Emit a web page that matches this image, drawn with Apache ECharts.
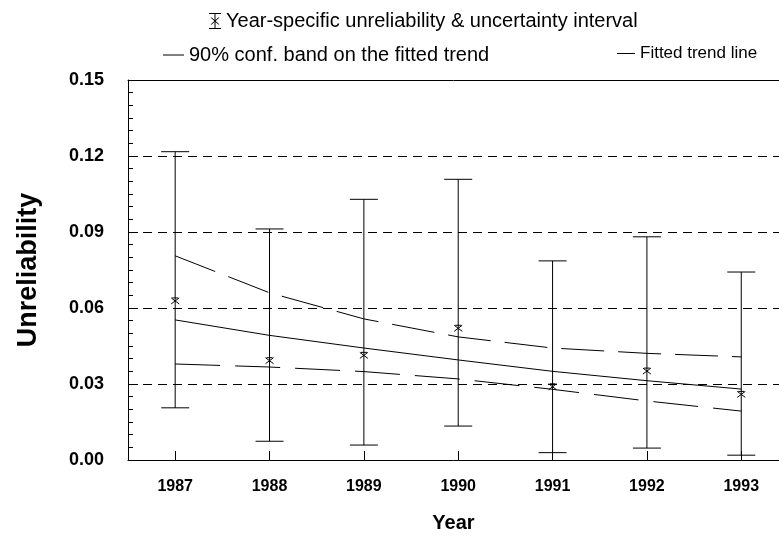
<!DOCTYPE html>
<html>
<head>
<meta charset="utf-8">
<script src="https://cdn.jsdelivr.net/npm/echarts@6/dist/echarts.min.js"></script>
<style>
    html, body { margin: 0; padding: 0; background: #fff; }
    #chart { width: 779px; height: 539px; }
</style>
</head>
<body>
<div id="chart"></div>
<script>
// values
const years = [1987, 1988, 1989, 1990, 1991, 1992, 1993]
const pointEst = [0.0628, 0.0392, 0.0413, 0.0520, 0.0289, 0.0351, 0.0259]
const lowerBound = [0.0206, 0.0074, 0.0059, 0.0134, 0.0029, 0.0047, 0.0019]
const upperBound = [0.1217, 0.0912, 0.1029, 0.1108, 0.0786, 0.0881, 0.0742]
const trendLine = [0.0553, 0.0492, 0.0442, 0.0395, 0.0350, 0.0313, 0.0280]
const bandUpper = [0.0806, 0.0660, 0.0557, 0.0486, 0.0442, 0.0421, 0.0407]
const bandLower = [0.0379, 0.0367, 0.0349, 0.0320, 0.0279, 0.0233, 0.0193]
const yTicks = [0, 0.03, 0.06, 0.09, 0.12, 0.15]

const NAME_ERR = 'Year-specific unreliability & uncertainty interval'
const NAME_BAND = '90% conf. band on the fitted trend'
const NAME_TREND = 'Fitted trend line'

const FONT = 'Liberation Sans, Arial, sans-serif'
const errIcon = 'path://M0,0H12V1H0Z M0,15H12V16H0Z M5.5,1H6.5V15H5.5Z ' +
    'M1.5,4.5L2.7,4.5L10.5,11.5L9.3,11.5Z M9.3,4.5L10.5,4.5L2.7,11.5L1.5,11.5Z'

function renderErrorBar(params, api) {
    const x = api.value(0)
    const lo = api.coord([x, api.value(1)])
    const hi = api.coord([x, api.value(2)])
    const mid = api.coord([x, api.value(3)])
    const cap = 14
    const m = 4
    const style = { stroke: '#000', lineWidth: 1, fill: null }
    const line = (x1, y1, x2, y2) => ({ type: 'line', shape: { x1, y1, x2, y2 }, style })
    return {
        type: 'group',
        children: [
            line(hi[0], hi[1], lo[0], lo[1]),
            line(hi[0] - cap, hi[1], hi[0] + cap, hi[1]),
            line(lo[0] - cap, lo[1], lo[0] + cap, lo[1]),
            line(mid[0] - m, mid[1] - m + 1, mid[0] + m, mid[1] + m - 1),
            line(mid[0] - m, mid[1] + m - 1, mid[0] + m, mid[1] - m + 1),
            line(mid[0] - m + 1, mid[1] - m + 1, mid[0] + m - 1, mid[1] - m + 1),
        ],
    }
}

const legendBase = {
    orient: 'horizontal',
    padding: 0,
    selectedMode: false,
}
const legendText = (size) => ({ color: '#000', fontSize: size, fontFamily: FONT })

const option = {
    animation: false,
    backgroundColor: '#fff',
    legend: [
        {
            ...legendBase,
            data: [{ name: NAME_ERR, icon: errIcon }],
            left: 209, top: 11, itemWidth: 12, itemHeight: 16,
            textStyle: legendText(20),
        },
        {
            ...legendBase,
            data: [{ name: NAME_BAND, icon: 'rect' }],
            left: 163, top: 45, itemWidth: 21, itemHeight: 1,
            textStyle: legendText(20),
        },
        {
            ...legendBase,
            data: [{ name: NAME_TREND, icon: 'rect' }],
            left: 617, top: 45, itemWidth: 18, itemHeight: 1,
            textStyle: legendText(17),
        },
    ],
    grid: { left: 128, right: 0, top: 80, bottom: 79 },
    xAxis: [
        {
            type: 'value',
            min: 1986.5,
            max: 1993.4,
            name: 'Year',
            nameLocation: 'middle',
            nameGap: 53,
            nameTextStyle: { color: '#000', fontSize: 20, fontWeight: 'bold', fontFamily: FONT },
            axisLine: { show: true, lineStyle: { color: '#000', width: 1 } },
            axisTick: { show: true, inside: true, length: 9, customValues: years, lineStyle: { color: '#000' } },
            axisLabel: {
                customValues: years,
                margin: 19,
                color: '#000',
                fontSize: 16,
                fontWeight: 'bold',
                fontFamily: FONT,
                formatter: (v) => String(v),
            },
            splitLine: { show: false },
        },
        {
            type: 'value',
            position: 'top',
            min: 1986.5,
            max: 1993.4,
            axisLine: { show: true, lineStyle: { color: '#000', width: 1 } },
            axisTick: { show: false },
            axisLabel: { show: false },
            splitLine: { show: false },
        },
    ],
    yAxis: {
        type: 'value',
        min: 0,
        max: 0.15,
        interval: 0.03,
        name: 'Unreliability',
        nameLocation: 'middle',
        nameRotate: 90,
        nameGap: 86,
        nameTextStyle: { color: '#000', fontSize: 27, fontWeight: 'bold', fontFamily: FONT },
        axisLine: { show: true, lineStyle: { color: '#000', width: 1 } },
        axisTick: { show: true, inside: true, length: 10, lineStyle: { color: '#000' } },
        minorTick: { show: true, splitNumber: 6, length: 5, lineStyle: { color: '#000' } },
        axisLabel: {
            margin: 24,
            color: '#000',
            fontSize: 18,
            fontWeight: 'bold',
            fontFamily: FONT,
            formatter: (v) => yTicks.find((t) => Math.abs(t - v) < 1e-9).toFixed(2),
        },
        splitLine: { show: true, lineStyle: { color: '#000', width: 1, type: [9, 6] } },
    },
    series: [
        {
            name: NAME_ERR,
            type: 'custom',
            renderItem: renderErrorBar,
            itemStyle: { color: '#000' },
            encode: { x: 0, y: [1, 2] },
            data: years.map((yr, i) => [yr, lowerBound[i], upperBound[i], pointEst[i]]),
            z: 3,
        },
        {
            name: NAME_TREND,
            type: 'line',
            data: years.map((yr, i) => [yr, trendLine[i]]),
            symbol: 'none',
            itemStyle: { color: '#000' },
            lineStyle: { color: '#000', width: 1 },
        },
        {
            name: NAME_BAND,
            type: 'line',
            data: years.map((yr, i) => [yr, bandUpper[i]]),
            symbol: 'none',
            itemStyle: { color: '#000' },
            lineStyle: { color: '#000', width: 1, type: [43, 14] },
        },
        {
            name: NAME_BAND,
            type: 'line',
            data: years.map((yr, i) => [yr, bandLower[i]]),
            symbol: 'none',
            itemStyle: { color: '#000' },
            lineStyle: { color: '#000', width: 1, type: [45, 15] },
        },
    ],
}

const chart = echarts.init(document.getElementById('chart'))
chart.setOption(option)
</script>
</body>
</html>
